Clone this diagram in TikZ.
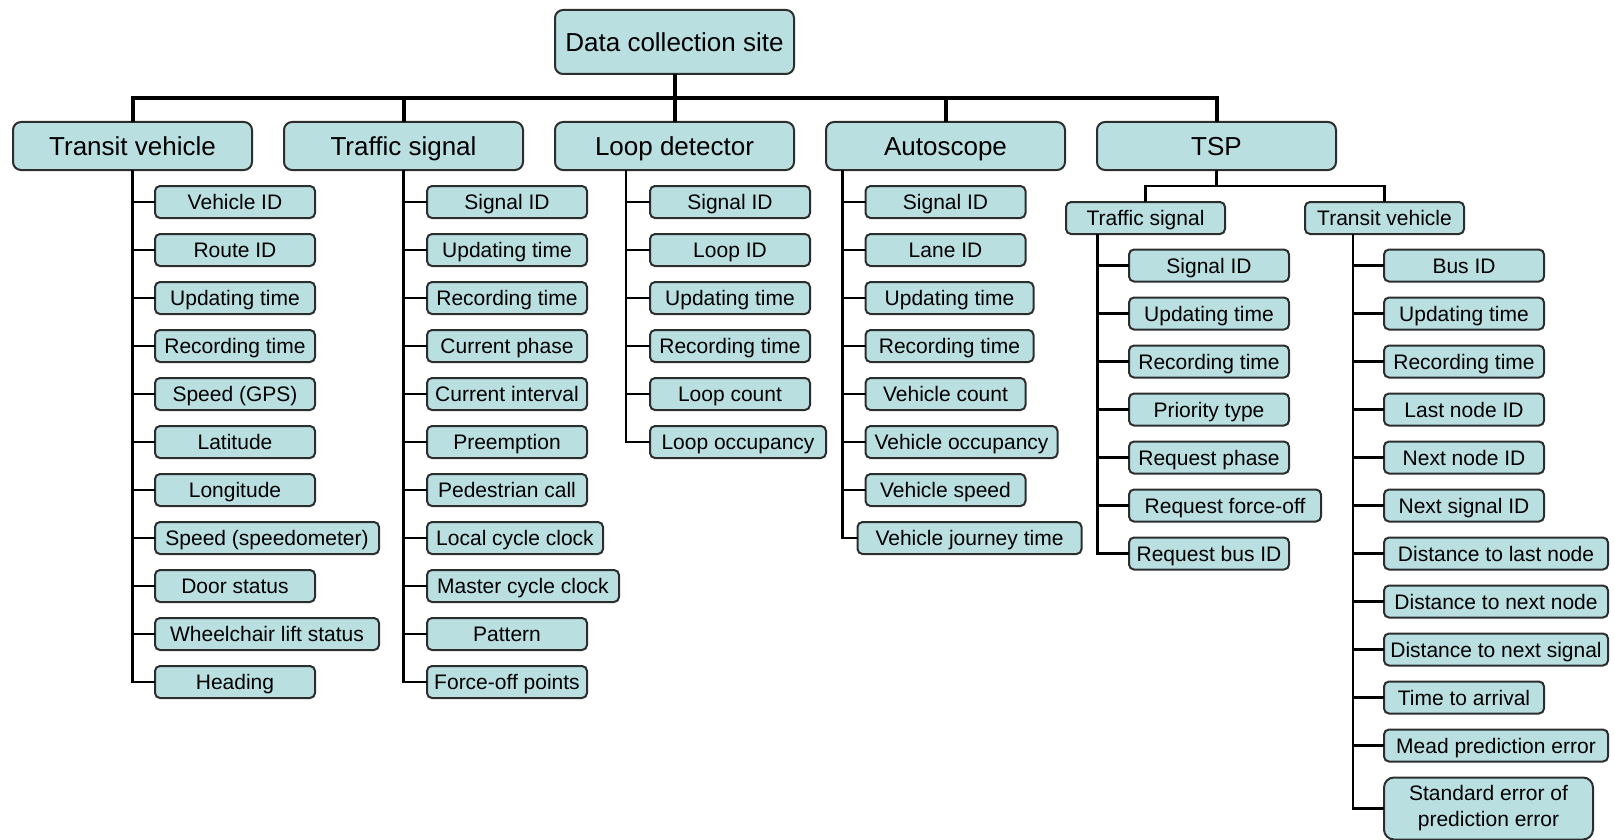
\documentclass[tikz,border=0pt]{standalone}
\usepackage{fontspec}
\setmainfont{Liberation Sans}
\usepackage{tikz}
\usetikzlibrary{positioning}
\definecolor{boxfill}{RGB}{185,223,225}
\definecolor{boxline}{RGB}{45,45,45}

\begin{document}
\begin{tikzpicture}[x=1pt, y=1pt,
    sitebox/.style={rectangle, draw=boxline, line width=2pt, fill=boxfill, rounded corners=8pt, minimum width=239pt, minimum height=64pt, outer sep=0pt, text height=22pt, text depth=2.5pt, font=\fontsize{26}{30}\selectfont},
    catbox/.style={sitebox, minimum height=48pt},
    subbox/.style={rectangle, draw=boxline, line width=2pt, fill=boxfill, rounded corners=5pt, minimum width=159pt, minimum height=32pt, inner sep=4pt, outer sep=0pt, text height=17pt, text depth=2pt, font=\fontsize{21}{26}\selectfont},
    fieldbox/.style={subbox, minimum width=160pt, anchor=west},
    stack/.style={below=16pt of #1.south west, anchor=north west},
    trunk/.style={line width=4pt},
    link/.style={line width=2.4pt}
]
\useasboundingbox (0,0) rectangle (1614,-840);

% top of the tree
\node[sitebox] (site) at (674.5,-42) {Data collection site};
\node[catbox, below=48pt of site] (ld) {Loop detector};
\node[catbox, left=32pt of ld] (ts) {Traffic signal};
\node[catbox, left=32pt of ts] (tv) {Transit vehicle};
\node[catbox, right=32pt of ld] (asc) {Autoscope};
\node[catbox, right=32pt of asc] (tsp) {TSP};
\coordinate (hub) at (674.5,-98);

% transit vehicle
\node[fieldbox] (tv1) at (155,-202) {Vehicle ID};
\node[fieldbox, stack=tv1] (tv2) {Route ID};
\node[fieldbox, stack=tv2] (tv3) {Updating time};
\node[fieldbox, stack=tv3] (tv4) {Recording time};
\node[fieldbox, stack=tv4] (tv5) {Speed (GPS)};
\node[fieldbox, stack=tv5] (tv6) {Latitude};
\node[fieldbox, stack=tv6] (tv7) {Longitude};
\node[fieldbox, stack=tv7, minimum width=224pt] (tv8) {Speed (speedometer)};
\node[fieldbox, stack=tv8] (tv9) {Door status};
\node[fieldbox, stack=tv9, minimum width=224pt] (tv10) {Wheelchair lift status};
\node[fieldbox, stack=tv10] (tv11) {Heading};

% traffic signal
\node[fieldbox] (ts1) at (427,-202) {Signal ID};
\node[fieldbox, stack=ts1] (ts2) {Updating time};
\node[fieldbox, stack=ts2] (ts3) {Recording time};
\node[fieldbox, stack=ts3] (ts4) {Current phase};
\node[fieldbox, stack=ts4] (ts5) {Current interval};
\node[fieldbox, stack=ts5] (ts6) {Preemption};
\node[fieldbox, stack=ts6] (ts7) {Pedestrian call};
\node[fieldbox, stack=ts7, minimum width=176pt] (ts8) {Local cycle clock};
\node[fieldbox, stack=ts8, minimum width=192pt] (ts9) {Master cycle clock};
\node[fieldbox, stack=ts9] (ts10) {Pattern};
\node[fieldbox, stack=ts10] (ts11) {Force-off points};

% loop detector
\coordinate (lds) at (626,-170);
\node[fieldbox] (ld1) at (650,-202) {Signal ID};
\node[fieldbox, stack=ld1] (ld2) {Loop ID};
\node[fieldbox, stack=ld2] (ld3) {Updating time};
\node[fieldbox, stack=ld3] (ld4) {Recording time};
\node[fieldbox, stack=ld4] (ld5) {Loop count};
\node[fieldbox, stack=ld5, minimum width=176pt] (ld6) {Loop occupancy};

% autoscope
\coordinate (ascs) at (842.5,-170);
\node[fieldbox] (asc1) at (865.5,-202) {Signal ID};
\node[fieldbox, stack=asc1] (asc2) {Lane ID};
\node[fieldbox, stack=asc2, minimum width=168pt] (asc3) {Updating time};
\node[fieldbox, stack=asc3, minimum width=168pt] (asc4) {Recording time};
\node[fieldbox, stack=asc4] (asc5) {Vehicle count};
\node[fieldbox, stack=asc5, minimum width=192pt] (asc6) {Vehicle occupancy};
\node[fieldbox, stack=asc6] (asc7) {Vehicle speed};
\node[fieldbox, stack=asc7, minimum width=224pt, xshift=-8pt] (asc8) {Vehicle journey time};

% TSP
\coordinate (pbar) at (1216.5,-186);
\node[subbox] (pts) at (1145.5,-218) {Traffic signal};
\node[subbox, right=80pt of pts] (ptv) {Transit vehicle};

\coordinate (ptss) at (1097.5,-234);
\node[fieldbox] (pts1) at (1129,-265.5) {Signal ID};
\node[fieldbox, stack=pts1] (pts2) {Updating time};
\node[fieldbox, stack=pts2] (pts3) {Recording time};
\node[fieldbox, stack=pts3] (pts4) {Priority type};
\node[fieldbox, stack=pts4] (pts5) {Request phase};
\node[fieldbox, stack=pts5, minimum width=192pt] (pts6) {Request force-off};
\node[fieldbox, stack=pts6] (pts7) {Request bus ID};

\coordinate (ptvs) at (1353,-234);
\node[fieldbox] (ptv1) at (1384,-265.5) {Bus ID};
\node[fieldbox, stack=ptv1] (ptv2) {Updating time};
\node[fieldbox, stack=ptv2] (ptv3) {Recording time};
\node[fieldbox, stack=ptv3] (ptv4) {Last node ID};
\node[fieldbox, stack=ptv4] (ptv5) {Next node ID};
\node[fieldbox, stack=ptv5] (ptv6) {Next signal ID};
\node[fieldbox, stack=ptv6, minimum width=224pt] (ptv7) {Distance to last node};
\node[fieldbox, stack=ptv7, minimum width=224pt] (ptv8) {Distance to next node};
\node[fieldbox, stack=ptv8, minimum width=224pt] (ptv9) {Distance to next signal};
\node[fieldbox, stack=ptv9] (ptv10) {Time to arrival};
\node[fieldbox, stack=ptv10, minimum width=224pt] (ptv11) {Mead prediction error};
\node[fieldbox, stack=ptv11, minimum width=209pt, minimum height=62pt, rounded corners=10pt, align=center, text height=, text depth=] (ptv12) {Standard error of\\prediction error};

% connectors
\draw[trunk] (site) -- (ld);
\draw[trunk] (tv) |- (hub) -| (tsp);
\draw[trunk] (ts) -- (ts |- hub);
\draw[trunk] (asc) -- (asc |- hub);

\draw[link] (tv) |- (tv1);
\draw[link] (tv) |- (tv2);
\draw[link] (tv) |- (tv3);
\draw[link] (tv) |- (tv4);
\draw[link] (tv) |- (tv5);
\draw[link] (tv) |- (tv6);
\draw[link] (tv) |- (tv7);
\draw[link] (tv) |- (tv8);
\draw[link] (tv) |- (tv9);
\draw[link] (tv) |- (tv10);
\draw[link] (tv) |- (tv11);

\draw[link] (ts) |- (ts1);
\draw[link] (ts) |- (ts2);
\draw[link] (ts) |- (ts3);
\draw[link] (ts) |- (ts4);
\draw[link] (ts) |- (ts5);
\draw[link] (ts) |- (ts6);
\draw[link] (ts) |- (ts7);
\draw[link] (ts) |- (ts8);
\draw[link] (ts) |- (ts9);
\draw[link] (ts) |- (ts10);
\draw[link] (ts) |- (ts11);

\draw[link] (lds) |- (ld1);
\draw[link] (lds) |- (ld2);
\draw[link] (lds) |- (ld3);
\draw[link] (lds) |- (ld4);
\draw[link] (lds) |- (ld5);
\draw[link] (lds) |- (ld6);

\draw[link] (ascs) |- (asc1);
\draw[link] (ascs) |- (asc2);
\draw[link] (ascs) |- (asc3);
\draw[link] (ascs) |- (asc4);
\draw[link] (ascs) |- (asc5);
\draw[link] (ascs) |- (asc6);
\draw[link] (ascs) |- (asc7);
\draw[link] (ascs) |- (asc8);

\draw[link] (tsp) -- (pbar);
\draw[link] (pts) |- (pbar) -| (ptv);

\draw[link] (ptss) |- (pts1);
\draw[link] (ptss) |- (pts2);
\draw[link] (ptss) |- (pts3);
\draw[link] (ptss) |- (pts4);
\draw[link] (ptss) |- (pts5);
\draw[link] (ptss) |- (pts6);
\draw[link] (ptss) |- (pts7);

\draw[link] (ptvs) |- (ptv1);
\draw[link] (ptvs) |- (ptv2);
\draw[link] (ptvs) |- (ptv3);
\draw[link] (ptvs) |- (ptv4);
\draw[link] (ptvs) |- (ptv5);
\draw[link] (ptvs) |- (ptv6);
\draw[link] (ptvs) |- (ptv7);
\draw[link] (ptvs) |- (ptv8);
\draw[link] (ptvs) |- (ptv9);
\draw[link] (ptvs) |- (ptv10);
\draw[link] (ptvs) |- (ptv11);
\draw[link] (ptvs) |- (ptv12);
\end{tikzpicture}
\end{document}
